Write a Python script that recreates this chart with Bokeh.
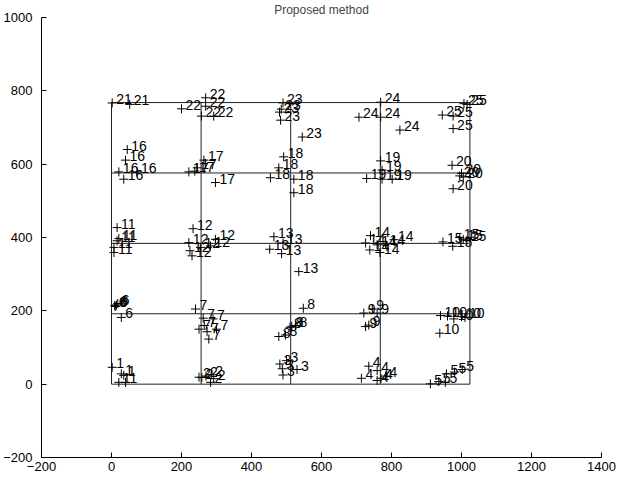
from bokeh.plotting import figure
from bokeh.models import Range1d, ColumnDataSource, FixedTicker, Title
from bokeh.core.properties import value
from bokeh.embed import file_html
from bokeh.resources import INLINE

# grid of true positions
grid_x = [0, 256, 512, 768, 1024]
grid_y = [0, 192, 384, 576, 768]

# estimated points (x, y, id label)
pts_x = [2, 28, 35, 21, 40,
         250, 258, 270, 285, 292, 283,
         481, 500, 488, 490, 530,
         735, 759, 714, 759, 783, 770,
         911, 935, 954, 957, 980, 1002,
         9, 14, 18, 12, 28,
         240, 262, 290, 250, 273, 300, 278, 265,
         548, 526, 515, 510, 497, 478,
         721, 745, 759, 726, 735,
         940, 960, 978, 1000, 1010, 938,
         16, 21, 16, 7, 7,
         233, 221, 224, 254, 283, 297, 230,
         464, 452, 486, 535, 490,
         740, 726, 807, 738, 767, 759, 783,
         947, 975, 995, 1005, 1015,
         45, 40, 21, 73, 35,
         297, 264, 245, 221, 238,
         492, 478, 454, 521, 521,
         769, 773, 729, 773, 802,
         973, 1000, 1005, 995, 976,
         2, 52,
         200, 269, 269, 257, 292,
         490, 485, 480, 483, 545,
         769, 707, 769, 824,
         945, 976, 976, 1007, 1016]
pts_y = [46, 28, 24, 5, 5,
         19, 18, 22, 26, 15, 5,
         55, 64, 42, 25, 40,
         49, 37, 16, 10, 22, 16,
         1, 7, 5, 28, 33, 40,
         214, 216, 220, 212, 182,
         205, 180, 178, 150, 143, 150, 123, 160,
         207, 160, 158, 155, 134, 130,
         194, 205, 194, 157, 161,
         187, 186, 178, 184, 182, 139,
         427, 397, 391, 373, 359,
         424, 386, 364, 373, 377, 395, 350,
         402, 368, 356, 307, 385,
         405, 385, 394, 366, 359, 380, 382,
         388, 376, 400, 395, 392,
         640, 611, 579, 579, 559,
         550, 611, 590, 579, 581,
         620, 590, 563, 559, 522,
         609, 584, 561, 559, 559,
         597, 575, 565, 568, 533,
         767, 763,
         751, 781, 758, 731, 731,
         767, 750, 742, 720, 674,
         769, 728, 728, 693,
         734, 731, 697, 765, 763]
pts_id = ([1] * 5 + [2] * 6 + [3] * 5 + [4] * 6 + [5] * 6 + [6] * 5 + [7] * 8 +
          [8] * 6 + [9] * 5 + [10] * 6 + [11] * 5 + [12] * 7 + [13] * 5 + [14] * 7 +
          [15] * 5 + [16] * 5 + [17] * 5 + [18] * 5 + [19] * 5 + [20] * 5 + [21] * 2 +
          [22] * 5 + [23] * 5 + [24] * 4 + [25] * 5)

x_ticks = [-200, 0, 200, 400, 600, 800, 1000, 1200, 1400]
y_ticks = [-200, 0, 200, 400, 600, 800, 1000]

FONT = "Liberation Sans"

p = figure(width=617, height=477, output_backend="svg", toolbar_location=None,
           x_range=Range1d(-200, 1400), y_range=Range1d(-200, 1000),
           min_border_left=41, min_border_right=16, min_border_top=0,
           min_border_bottom=20)
p.add_layout(Title(text="Proposed method", align="center", text_font=FONT,
                   text_font_size="12px", text_font_style="normal",
                   standoff=1, offset=0), "above")
p.outline_line_color = None
p.grid.visible = False
p.background_fill_color = "white"
p.border_fill_color = "white"

for ax in (p.xaxis[0], p.yaxis[0]):
    ax.major_tick_in = 5
    ax.major_tick_out = 0
    ax.minor_tick_line_color = None
    ax.axis_line_color = "black"
    ax.major_tick_line_color = "black"
    ax.major_label_text_font = FONT
    ax.major_label_text_font_size = "13px"
    ax.major_label_text_color = "black"
p.xaxis[0].ticker = FixedTicker(ticks=x_ticks)
p.yaxis[0].ticker = FixedTicker(ticks=y_ticks)
p.xaxis[0].major_label_overrides = {t: (str(t).replace("-", "\u2212")) for t in x_ticks}
p.yaxis[0].major_label_overrides = {t: (str(t).replace("-", "\u2212")) for t in y_ticks}
p.xaxis[0].major_label_standoff = 4
p.yaxis[0].major_label_standoff = 9

# grid lines
gx0 = grid_x[0]
gx1 = grid_x[-1]
gy0 = grid_y[0]
gy1 = grid_y[-1]
p.segment(x0=grid_x, y0=[gy0] * len(grid_x), x1=grid_x, y1=[gy1] * len(grid_x),
          line_color="#222222", line_width=1)
p.segment(x0=[gx0] * len(grid_y), y0=grid_y, x1=[gx1] * len(grid_y), y1=grid_y,
          line_color="#222222", line_width=1)

src = ColumnDataSource(dict(x=pts_x, y=pts_y, t=[str(i) for i in pts_id]))
p.scatter("x", "y", source=src, marker="cross", size=9, line_color="black",
          line_width=1)
p.text("x", "y", text="t", source=src, x_offset=4, y_offset=-4,
       text_font=value(FONT), text_font_size="14px", text_color="black",
       text_baseline="middle", text_align="left")

open("out.html", "w").write(file_html(p, INLINE))
